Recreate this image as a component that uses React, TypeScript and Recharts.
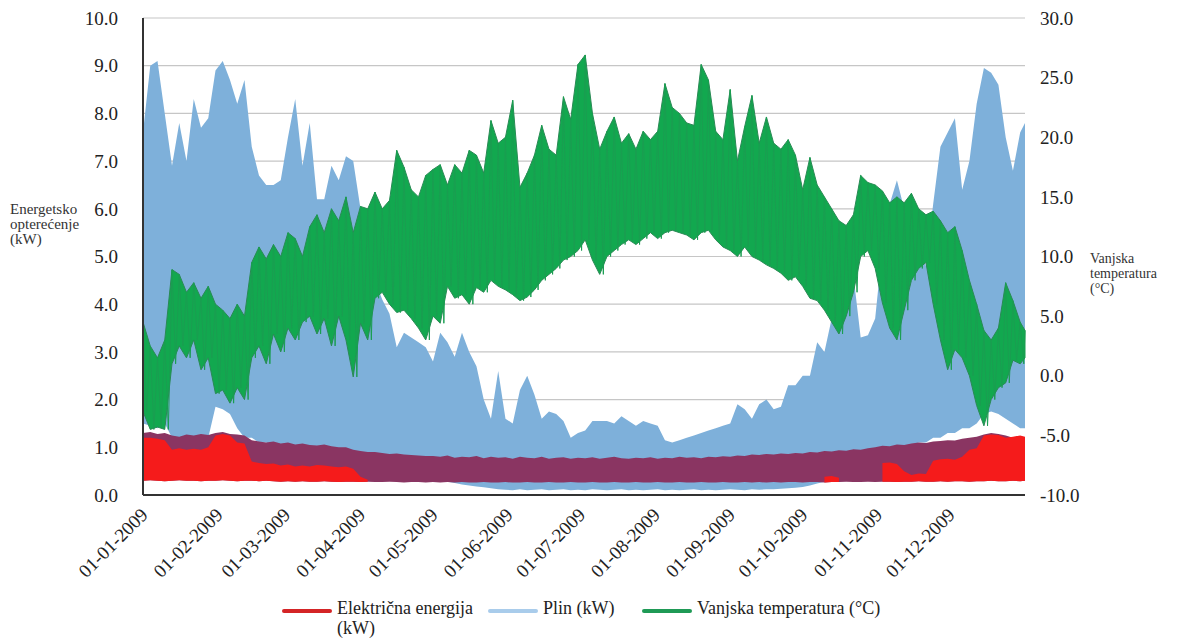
import React from 'react';
import { ComposedChart, Area, Line, XAxis, YAxis, CartesianGrid, Legend } from 'recharts';

// ---- categories (month starts as day-of-year) ----
const MONTH_DAYS = [0, 31, 59, 90, 120, 151, 181, 212, 243, 273, 304, 334];
const MONTH_LABELS = [
  '01-01-2009', '01-02-2009', '01-03-2009', '01-04-2009', '01-05-2009', '01-06-2009',
  '01-07-2009', '01-08-2009', '01-09-2009', '01-10-2009', '01-11-2009', '01-12-2009',
];
const LEFT_TICKS = [0, 1, 2, 3, 4, 5, 6, 7, 8, 9, 10];
const RIGHT_TICKS = [-10, -5, 0, 5, 10, 15, 20, 25, 30];
const SAMPLE_STEP_DAYS = 3;

// ---- Plin (kW): envelope per 3-day sample ----
const GAS_HIGH = [
  7.6, 9.0, 9.1, 8.0, 6.9, 7.8, 7.0, 8.3, 7.7, 7.9,
  8.9, 9.1, 8.7, 8.2, 8.7, 7.3, 6.7, 6.5, 6.5, 6.6,
  7.5, 8.3, 6.9, 7.8, 6.2, 6.2, 6.9, 6.6, 7.1, 7.0,
  6.0, 5.4, 4.5, 4.1, 3.8, 3.1, 3.4, 3.3, 3.2, 3.1,
  2.8, 3.4, 3.2, 2.9, 3.4, 3.0, 2.7, 2.0, 1.6, 2.6,
  1.6, 1.5, 2.2, 2.5, 2.1, 1.6, 1.75, 1.7, 1.55, 1.2,
  1.3, 1.35, 1.55, 1.55, 1.55, 1.5, 1.65, 1.55, 1.45, 1.55,
  1.5, 1.45, 1.15, 1.1, 1.15, 1.2, 1.25, 1.3, 1.35, 1.4,
  1.45, 1.5, 1.9, 1.8, 1.6, 1.9, 2.0, 1.8, 1.85, 2.3,
  2.3, 2.5, 2.5, 3.2, 3.0, 3.7, 3.8, 4.2, 4.6, 3.3,
  3.35, 3.7, 5.2, 6.1, 6.6, 6.0, 6.0, 5.5, 4.8, 6.1,
  7.3, 7.6, 7.9, 6.4, 7.0, 8.2, 8.95, 8.85, 8.6, 7.5,
  6.8, 7.6, 7.8,
];
const GAS_LOW = [
  1.5, 1.45, 1.4, 1.5, 1.2, 1.2, 1.15, 1.2, 1.2, 1.2,
  1.85, 1.8, 1.7, 1.4, 1.2, 1.2, 1.1, 1.1, 1.0, 1.0,
  0.95, 0.9, 0.9, 0.85, 0.8, 0.8, 0.75, 0.7, 0.7, 0.65,
  0.6, 0.55, 0.5, 0.5, 0.45, 0.45, 0.4, 0.4, 0.35, 0.35,
  0.3, 0.3, 0.28, 0.25, 0.22, 0.2, 0.18, 0.16, 0.14, 0.12,
  0.11, 0.1, 0.12, 0.1, 0.11, 0.12, 0.1, 0.11, 0.12, 0.1,
  0.11, 0.1, 0.12, 0.11, 0.1, 0.11, 0.12, 0.1, 0.11, 0.1,
  0.11, 0.12, 0.1, 0.11, 0.1, 0.11, 0.12, 0.1, 0.11, 0.1,
  0.11, 0.12, 0.11, 0.1, 0.12, 0.11, 0.12, 0.12, 0.13, 0.14,
  0.15, 0.17, 0.2, 0.24, 0.28, 0.32, 0.36, 0.4, 0.45, 0.5,
  0.55, 0.6, 0.7, 0.8, 0.9, 1.0, 1.0, 1.1, 1.1, 1.2,
  1.2, 1.3, 1.3, 1.4, 1.4, 1.5, 1.7, 1.75, 1.7, 1.6,
  1.5, 1.4, 1.4,
];

// ---- Električna energija (kW) ----
const ELEC_LOW = [
  0.3, 0.31, 0.3, 0.29, 0.3, 0.31, 0.3, 0.3, 0.29, 0.3,
  0.3, 0.31, 0.3, 0.29, 0.3, 0.3, 0.29, 0.3, 0.29, 0.28,
  0.29, 0.28, 0.29, 0.28, 0.28, 0.29, 0.28, 0.27, 0.28, 0.28,
  0.27, 0.28, 0.27, 0.27, 0.28, 0.27, 0.26, 0.27, 0.27, 0.26,
  0.27, 0.26, 0.27, 0.26, 0.27, 0.26, 0.26, 0.27, 0.26, 0.26,
  0.27, 0.26, 0.26, 0.27, 0.26, 0.26, 0.27, 0.26, 0.26, 0.27,
  0.26, 0.26, 0.27, 0.26, 0.26, 0.27, 0.26, 0.26, 0.27, 0.26,
  0.26, 0.27, 0.26, 0.26, 0.27, 0.26, 0.26, 0.27, 0.26, 0.26,
  0.27, 0.26, 0.26, 0.27, 0.26, 0.27, 0.26, 0.27, 0.26, 0.27,
  0.27, 0.26, 0.27, 0.27, 0.26, 0.27, 0.27, 0.28, 0.27, 0.27,
  0.28, 0.27, 0.28, 0.28, 0.27, 0.28, 0.28, 0.29, 0.28, 0.28,
  0.29, 0.28, 0.29, 0.29, 0.28, 0.29, 0.29, 0.3, 0.29, 0.29,
  0.3, 0.29, 0.3,
];
const ELEC_HIGH = [
  1.3, 1.32, 1.28, 1.3, 1.25, 1.22, 1.27, 1.25, 1.28, 1.26,
  1.3, 1.32, 1.28, 1.27, 1.25, 1.15, 1.12, 1.1, 1.12, 1.08,
  1.1, 1.06, 1.08, 1.05, 1.04, 1.06, 1.02, 1.0, 1.0, 0.95,
  0.92, 0.9, 0.9, 0.88, 0.86, 0.87, 0.85, 0.84, 0.83, 0.82,
  0.82, 0.8, 0.83, 0.78, 0.8, 0.79, 0.82, 0.77, 0.8, 0.78,
  0.79, 0.76, 0.8, 0.78, 0.77, 0.8, 0.76, 0.78, 0.79, 0.76,
  0.78, 0.77, 0.79, 0.76, 0.78, 0.8, 0.77, 0.76, 0.78, 0.77,
  0.79, 0.76, 0.78, 0.77, 0.8, 0.78, 0.79, 0.77, 0.8, 0.79,
  0.81, 0.8, 0.83, 0.82, 0.85, 0.84, 0.86, 0.85, 0.87, 0.86,
  0.88, 0.87, 0.9, 0.89, 0.92, 0.91, 0.94, 0.93, 0.96, 0.95,
  0.98, 1.0, 1.03, 1.02, 1.06, 1.05, 1.08, 1.1, 1.09, 1.12,
  1.13, 1.15, 1.14, 1.18, 1.2, 1.22, 1.27, 1.3, 1.28, 1.25,
  1.2, 1.22, 1.2,
];
// dense bright-red core of the electricity band (null = not visible)
const ELEC_CORE_TOP: (number | null)[] = [
  1.2, 1.2, 1.18, 1.15, 0.95, 0.98, 0.95, 0.97, 0.95, 1.0,
  1.25, 1.28, 1.25, 1.1, 1.08, 0.7, 0.67, 0.65, 0.66, 0.62,
  0.64, 0.6, 0.62, 0.6, 0.63, 0.62, 0.6, 0.58, 0.6, 0.55,
  0.38, 0.32, null, null, null, null, null, null, null, null,
  null, null, null, null, null, null, null, null, null, null,
  null, null, null, null, null, null, null, null, null, null,
  null, null, null, null, null, null, null, null, null, null,
  null, null, null, null, null, null, null, null, null, null,
  null, null, null, null, null, null, null, null, null, null,
  null, null, null, null, 0.38, 0.4, 0.36, null, null, null,
  null, null, 0.67, 0.68, 0.65, 0.5, 0.42, 0.45, 0.44, 0.72,
  0.75, 0.76, 0.74, 0.8, 0.95, 0.98, 1.25, 1.27, 1.26, 1.2,
  1.22, 1.25, 1.22,
];

// ---- Vanjska temperatura (°C): envelope per 3-day sample ----
const TEMP_HIGH = [
  4.5, 2.5, 1.5, 3.0, 8.9, 8.5, 7.0, 7.8, 6.5, 7.5,
  6.0, 5.5, 4.8, 6.0, 5.0, 9.5, 10.8, 9.8, 11.0, 10.0,
  12.0, 11.5, 10.0, 12.5, 13.5, 12.0, 14.0, 13.0, 15.0, 12.0,
  14.2, 14.0, 15.4, 14.0, 14.7, 18.9, 17.5, 15.6, 15.0, 16.8,
  17.3, 17.7, 16.0, 17.7, 17.0, 18.9, 18.5, 17.0, 21.4, 19.5,
  20.0, 23.1, 15.8, 17.0, 18.5, 21.0, 19.0, 18.5, 23.4, 21.5,
  26.1, 26.9, 22.0, 19.0, 20.5, 21.7, 19.5, 20.3, 19.0, 20.5,
  19.8, 20.5, 24.5, 22.5, 22.0, 21.2, 21.0, 26.1, 24.8, 20.5,
  19.8, 24.0, 18.0, 20.9, 23.5, 19.5, 21.7, 19.5, 19.0, 19.8,
  18.5, 15.6, 18.3, 16.0, 15.0, 14.0, 13.0, 12.6, 13.5, 16.8,
  16.2, 16.0, 15.5, 14.5, 15.0, 14.5, 15.3, 14.0, 13.5, 13.8,
  13.0, 12.0, 12.5, 10.5, 8.0, 6.0, 3.8, 3.0, 4.0, 7.8,
  6.3, 4.5, 3.8,
];
const TEMP_LOW = [
  -3.0, -4.5, -4.3, -4.5, 1.0, 2.5, 1.5, 3.0, 0.5, 1.5,
  -1.5, -1.2, -2.3, -1.0, -2.0, 1.5, 2.5, 1.0, 3.5, 2.0,
  4.0, 3.0, 4.5, 5.0, 3.5, 4.8, 2.5, 5.0, 3.0, -0.1,
  4.4, 3.0, 6.5, 7.0, 6.0, 5.3, 5.5, 4.8, 4.0, 3.0,
  5.0, 4.4, 7.5, 6.5, 6.8, 6.0, 7.4, 7.0, 8.0, 7.5,
  7.2, 6.8, 6.3, 6.6, 7.2, 8.0, 8.5, 9.0, 9.7, 10.0,
  10.5, 11.4, 9.7, 8.5, 10.0, 10.5, 11.0, 11.4, 11.0, 11.5,
  12.0, 11.5, 12.0, 12.2, 12.0, 11.8, 11.4, 12.0, 12.2, 11.4,
  10.8, 10.5, 10.0, 10.8, 10.0, 9.7, 9.3, 9.0, 8.6, 8.0,
  8.3, 7.5, 6.5, 6.3, 5.5, 4.5, 3.5, 5.0, 7.0, 10.0,
  10.5, 9.0, 6.1, 4.0, 3.0, 5.5, 8.0, 9.0, 9.5, 6.0,
  3.0, 0.5, 2.2, 1.5, 0.0, -2.5, -4.2, -2.0, -1.0, -0.6,
  1.3, 1.0, 1.5,
];

const data = GAS_HIGH.map((g, i) => ({
  day: Math.min(i * SAMPLE_STEP_DAYS, 365),
  gas: [GAS_LOW[i], g],
  elec: [ELEC_LOW[i], ELEC_HIGH[i]],
  elecCore: ELEC_CORE_TOP[i] == null ? null : [ELEC_LOW[i], ELEC_CORE_TOP[i]],
  temp: [TEMP_LOW[i], TEMP_HIGH[i]],
}));

// high/low alternation of the temperature trace (daily swing)
const tempTrace = TEMP_HIGH.flatMap((h, i) => [
  { day: Math.min(i * SAMPLE_STEP_DAYS, 365), t: h },
  { day: Math.min(i * SAMPLE_STEP_DAYS + SAMPLE_STEP_DAYS / 2, 365), t: TEMP_LOW[i] },
]);

const SERIF = "'Liberation Serif', 'Times New Roman', 'DejaVu Serif', serif";
const COLORS = {
  gas: '#7EB0DA',
  elecBand: '#8A3562',
  elecCore: '#F51B1B',
  tempFill: '#12A84F',
  tempStroke: '#2A8A55',
  tempTrace: '#1A9E51',
  legendRed: '#D42426',
  legendBlue: '#A9CCEB',
  legendGreen: '#1F9A56',
};

const DateTick = (props: any) => {
  const { x, y, payload } = props;
  const idx = MONTH_DAYS.indexOf(payload.value);
  const ax = x + 6;
  const ay = y + 13;
  return (
    <text
      x={ax}
      y={ay}
      transform={`rotate(-45 ${ax} ${ay})`}
      textAnchor="end"
      fontSize={19}
      fontFamily={SERIF}
      fill="#222"
    >
      {MONTH_LABELS[idx]}
    </text>
  );
};

const AxisTitle = (props: any) => {
  const { lines, ax, ay, size } = props;
  return (
    <text x={ax} y={ay} fontSize={size} fontFamily={SERIF} fill="#333">
      {lines.map((l: string, i: number) => (
        <tspan key={i} x={ax} dy={i === 0 ? 0 : 15}>
          {l}
        </tspan>
      ))}
    </text>
  );
};

const LegendContent = () => {
  const lineStyle = (left: number, color: string): React.CSSProperties => ({
    position: 'absolute',
    left,
    top: 11,
    width: 50,
    height: 4,
    background: color,
    borderRadius: 2,
  });
  const textStyle = (left: number): React.CSSProperties => ({
    position: 'absolute',
    left,
    top: 0,
    fontFamily: SERIF,
    fontSize: 18,
    lineHeight: '20px',
    color: '#222',
    whiteSpace: 'nowrap',
  });
  return (
    <div style={{ position: 'relative', width: 1184, height: 44 }}>
      <div style={lineStyle(282, COLORS.legendRed)} />
      <div style={textStyle(337)}>
        Električna energija
        <br />
        (kW)
      </div>
      <div style={lineStyle(488, COLORS.legendBlue)} />
      <div style={textStyle(543)}>Plin (kW)</div>
      <div style={lineStyle(642, COLORS.legendGreen)} />
      <div style={textStyle(697)}>Vanjska temperatura (°C)</div>
    </div>
  );
};

export default function App() {
  return (
    <div style={{ position: 'absolute', left: 0, top: 0, width: 1184, height: 638, background: '#fff' }}>
      <ComposedChart
        width={1184}
        height={638}
        data={data}
        margin={{ top: 18, right: 0, bottom: 0, left: 0 }}
      >
        <CartesianGrid yAxisId="left" vertical={false} stroke="#C6C6C6" strokeWidth={1.2} />
        <YAxis
          yAxisId="right"
          orientation="right"
          domain={[-10, 30]}
          ticks={RIGHT_TICKS}
          interval={0}
          width={159}
          tickLine={false}
          tickSize={0}
          tickMargin={15}
          axisLine={false}
          tickFormatter={(v: number) => v.toFixed(1)}
          tick={{ fontSize: 19, fontFamily: SERIF, fill: '#222' }}
          label={<AxisTitle lines={['Vanjska', 'temperatura', '(°C)']} ax={1090} ay={263} size={14} />}
        />
        <Area
          yAxisId="left"
          type="linear"
          dataKey="gas"
          name="Plin (kW)"
          fill={COLORS.gas}
          fillOpacity={1}
          stroke="none"
          isAnimationActive={false}
          dot={false}
          activeDot={false}
        />
        <Area
          yAxisId="left"
          type="linear"
          dataKey="elec"
          name="elec-band"
          legendType="none"
          fill={COLORS.elecBand}
          fillOpacity={1}
          stroke="none"
          isAnimationActive={false}
          dot={false}
          activeDot={false}
        />
        <Area
          yAxisId="left"
          type="linear"
          dataKey="elecCore"
          name="Električna energija (kW)"
          fill={COLORS.elecCore}
          fillOpacity={1}
          stroke="none"
          isAnimationActive={false}
          dot={false}
          activeDot={false}
        />
        <Area
          yAxisId="right"
          type="linear"
          dataKey="temp"
          name="Vanjska temperatura (°C)"
          fill={COLORS.tempFill}
          fillOpacity={1}
          stroke={COLORS.tempStroke}
          strokeWidth={1}
          isAnimationActive={false}
          dot={false}
          activeDot={false}
        />
        <Line
          yAxisId="right"
          data={tempTrace}
          type="linear"
          dataKey="t"
          legendType="none"
          stroke={COLORS.tempTrace}
          strokeWidth={1}
          isAnimationActive={false}
          dot={false}
          activeDot={false}
        />
        <XAxis
          dataKey="day"
          type="number"
          domain={[0, 365]}
          ticks={MONTH_DAYS}
          interval={0}
          height={143}
          tickLine={false}
          axisLine={{ stroke: '#333', strokeWidth: 2 }}
          tick={<DateTick />}
        />
        <YAxis
          yAxisId="left"
          domain={[0, 10]}
          ticks={LEFT_TICKS}
          interval={0}
          width={143}
          tickLine={false}
          tickSize={0}
          tickMargin={25}
          axisLine={{ stroke: '#333', strokeWidth: 2 }}
          tickFormatter={(v: number) => v.toFixed(1)}
          tick={{ fontSize: 19, fontFamily: SERIF, fill: '#222' }}
          label={<AxisTitle lines={['Energetsko', 'opterećenje', '(kW)']} ax={10} ay={214} size={15} />}
        />
        <Legend
          verticalAlign="middle"
          align="center"
          content={<LegendContent />}
          wrapperStyle={{ top: 598, left: 0, width: 1184, height: 44 }}
        />
      </ComposedChart>
    </div>
  );
}
